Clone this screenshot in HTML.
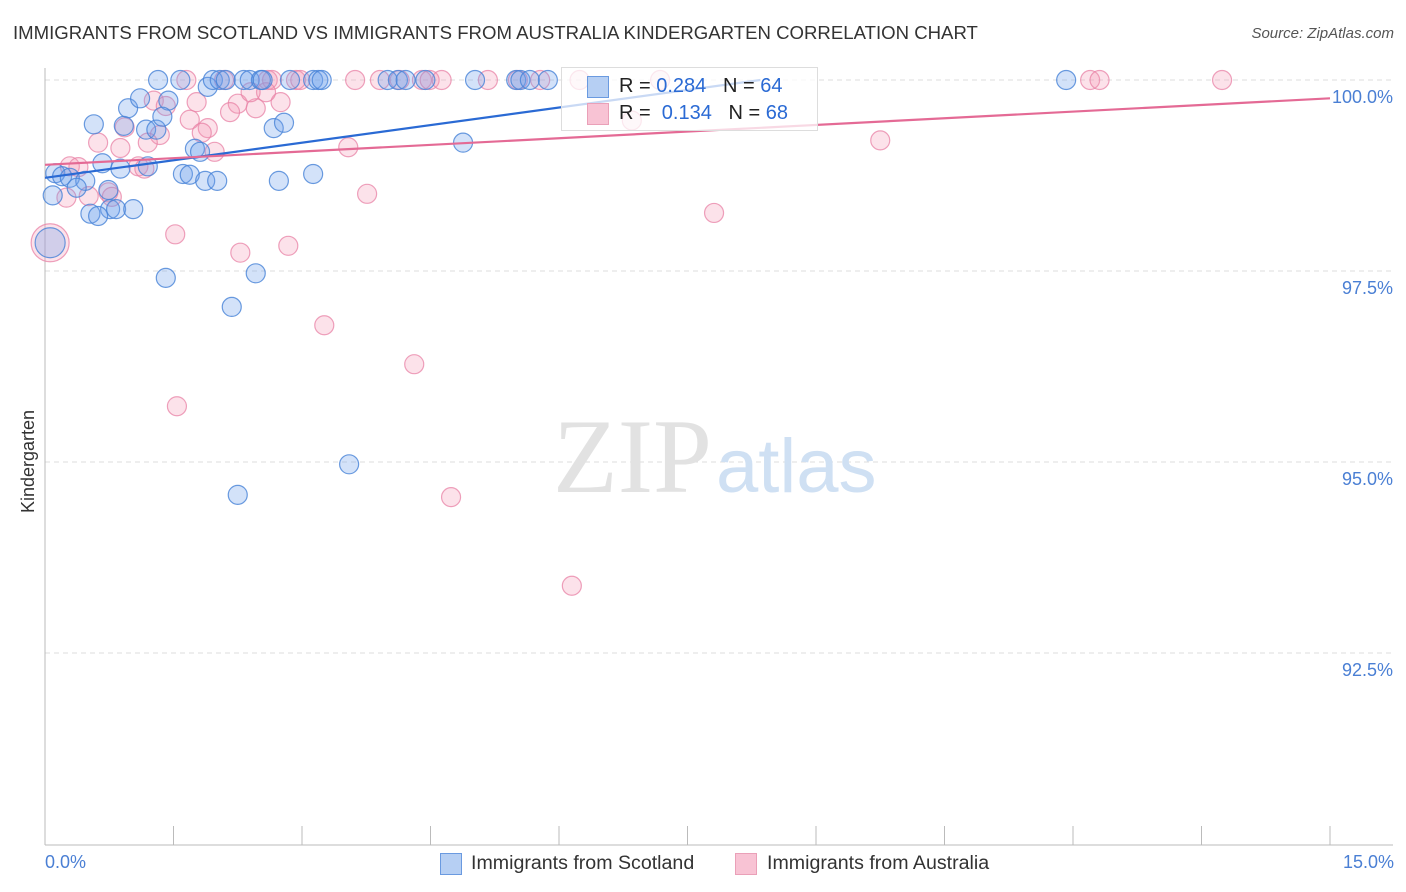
<!DOCTYPE html>
<html><head><meta charset="utf-8">
<style>
body{margin:0;background:#fff;font-family:"Liberation Sans",sans-serif;}
#wrap{position:relative;width:1406px;height:892px;overflow:hidden;}
.t{position:absolute;white-space:nowrap;}
</style></head><body>
<div id="wrap">
<div class="t" style="left:13px;top:22px;font-size:18.6px;color:#333;">IMMIGRANTS FROM SCOTLAND VS IMMIGRANTS FROM AUSTRALIA KINDERGARTEN CORRELATION CHART</div>
<div class="t" style="right:12px;top:25px;font-size:15px;color:#555;font-style:italic;">Source: ZipAtlas.com</div>
<svg id="chart" width="1406" height="892" style="position:absolute;left:0;top:0;"></svg>
</div>
<script>
const xTicks=[0,1.5,3,4.5,6,7.5,9,10.5,12,13.5,15];
const yTicks=[100,97.5,95,92.5];
const yTickLabels=["100.0%","97.5%","95.0%","92.5%"];
const blueX=[1.32,1.58,1.90,1.96,2.04,2.11,2.32,2.39,2.52,2.54,2.86,3.13,3.19,3.23,4.00,4.12,4.21,4.44,5.02,5.50,5.55,5.66,5.87,11.92,
0.97,1.11,1.44,0.57,0.92,1.18,1.30,1.37,2.67,2.79,1.75,1.81,4.88,0.67,1.20,0.88,0.12,0.20,0.29,0.47,0.37,1.61,1.69,1.87,2.01,2.73,3.13,0.09,0.74,0.76,0.83,1.03,0.53,0.62,1.41,2.46,2.18,3.55,2.25,0.06];
const blueY=[100,100,99.91,100,100,100,100,100,100,100,100,100,100,100,100,100,100,100,100,100,100,100,100,100,
99.63,99.76,99.73,99.42,99.40,99.35,99.35,99.52,99.37,99.44,99.10,99.06,99.18,98.91,98.87,98.84,98.78,98.74,98.72,98.68,98.59,98.77,98.76,98.68,98.68,98.68,98.77,98.49,98.56,98.31,98.31,98.31,98.25,98.22,97.41,97.47,97.03,94.97,94.57,97.87];
const pinkX=[1.65,2.09,2.60,2.65,2.93,2.98,3.62,3.91,4.14,4.40,4.49,4.63,5.17,5.52,5.78,6.24,7.18,12.20,12.31,13.74,
1.27,1.41,1.77,2.25,2.46,2.75,2.58,2.40,2.16,1.69,1.90,1.83,1.34,0.93,0.62,0.88,1.20,1.98,3.54,9.75,0.29,0.39,1.09,1.16,0.74,0.78,0.25,0.51,3.76,7.81,1.52,2.28,2.84,3.26,1.54,4.31,4.74,6.15,0.06,6.85];
const pinkY=[100,100,100,100,100,100,100,100,100,100,100,100,100,100,100,100,100,100,100,100,
99.73,99.66,99.71,99.69,99.63,99.71,99.84,99.84,99.58,99.48,99.37,99.31,99.28,99.38,99.18,99.11,99.18,99.06,99.12,99.21,98.87,98.86,98.87,98.84,98.53,98.47,98.46,98.48,98.51,98.26,97.98,97.74,97.83,96.79,95.73,96.28,94.54,93.38,97.87,99.47];
const blueTrendX=[0,8.35];const blueTrendY=[98.72,100.0];
const pinkTrendX=[0,15];const pinkTrendY=[98.89,99.76];
const NS="http://www.w3.org/2000/svg";
const svg=document.getElementById('chart');
const X0=45,X1=1330,Y100=80,PY=76.4;
function sx(v){return X0+(v-0)/15*(X1-X0);}
function sy(v){return Y100+(100-v)*PY;}
function mk(tag,attrs,parent){const e=document.createElementNS(NS,tag);for(const k in attrs)e.setAttribute(k,attrs[k]);(parent||svg).appendChild(e);return e;}
yTicks.forEach((t,i)=>{
 const g=mk('line',{x1:X0,x2:1393,y1:sy(t),y2:sy(t),stroke:'#ddd','stroke-dasharray':'5,4','stroke-width':1});
 
 
 const tx=mk('text',{x:1393,y:sy(t)+23,'text-anchor':'end','font-size':18,fill:'#4a7fd4','font-family':'Liberation Sans, sans-serif'});
 tx.textContent=yTickLabels[i];
 
 
});
const ya=mk('line',{x1:X0,x2:X0,y1:68,y2:845,stroke:'#bbb','stroke-width':1});


const xa=mk('line',{x1:X0,x2:1393,y1:845,y2:845,stroke:'#bbb','stroke-width':1});


xTicks.forEach(t=>{const l=mk('line',{x1:sx(t),x2:sx(t),y1:826,y2:845,stroke:'#bbb'});
 
 });
const wm=mk('text',{x:553,y:492,'font-size':106,fill:'#e2e2e2','font-family':'Liberation Serif, serif'});
wm.innerHTML='ZIP<tspan fill="#cfe0f3" font-family="Liberation Sans, sans-serif" font-size="76" dx="4">atlas</tspan>';


function pts(xs,ys,fill,stroke,name,bigR){xs.forEach((x,i)=>{
 const big=(x<0.1&&ys[i]<98);
 const c=mk('circle',{cx:sx(x),cy:sy(ys[i]),r:big?bigR:9.5,fill:fill,stroke:stroke,'stroke-width':1.2});
 
 });}
pts(pinkX,pinkY,'rgba(244,150,180,0.28)','rgba(232,130,165,0.75)','australia-point',19);
pts(blueX,blueY,'rgba(110,160,235,0.3)','rgba(70,130,215,0.8)','scotland-point',15);
const bl=mk('line',{x1:sx(blueTrendX[0]),y1:sy(blueTrendY[0]),x2:sx(blueTrendX[1]),y2:sy(blueTrendY[1]),stroke:'#2a6ad4','stroke-width':2.2});


const pl=mk('line',{x1:sx(pinkTrendX[0]),y1:sy(pinkTrendY[0]),x2:sx(pinkTrendX[1]),y2:sy(pinkTrendY[1]),stroke:'#e46a95','stroke-width':2.2});


</script>
<div class="t" style="left:18px;font-size:18px;color:#333;transform:rotate(-90deg);transform-origin:0 0;top:513px;">Kindergarten</div>
<div class="t" style="left:45px;top:852px;font-size:18px;color:#4a7fd4;">0.0%</div>
<div class="t" style="right:12px;top:852px;font-size:18px;color:#4a7fd4;">15.0%</div>
<div style="position:absolute;left:561px;top:67px;width:255px;height:62px;border:1px solid #ddd;background:rgba(255,255,255,0.75);font-size:20px;">
 <div style="position:absolute;left:25px;top:8px;width:20px;height:20px;background:#b6cff3;border:1px solid #6a9ae0;"></div>
 <div class="t" style="left:57px;top:7px;color:#222;">R = <span style="color:#2a6ad4">0.284</span>&nbsp;&nbsp;&nbsp;N = <span style="color:#2a6ad4">64</span></div>
 <div style="position:absolute;left:25px;top:35px;width:20px;height:20px;background:#f8c3d4;border:1px solid #eaa0b8;"></div>
 <div class="t" style="left:57px;top:34px;color:#222;">R = &nbsp;<span style="color:#2a6ad4">0.134</span>&nbsp;&nbsp;&nbsp;N = <span style="color:#2a6ad4">68</span></div>
</div>
<div style="position:absolute;left:440px;top:853px;width:20px;height:20px;background:#b6cff3;border:1px solid #6a9ae0;"></div>
<div class="t" style="left:471px;top:852px;font-size:19.6px;color:#333;">Immigrants from Scotland</div>
<div style="position:absolute;left:735px;top:853px;width:20px;height:20px;background:#f8c3d4;border:1px solid #eaa0b8;"></div>
<div class="t" style="left:767px;top:852px;font-size:19.6px;color:#333;">Immigrants from Australia</div>
</body></html>
